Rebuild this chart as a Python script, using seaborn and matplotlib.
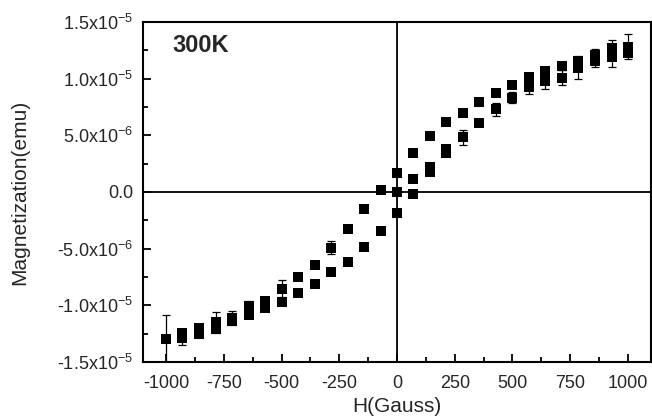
import numpy as np
import pandas as pd
import matplotlib
matplotlib.use('Agg')
import matplotlib.pyplot as plt
import seaborn as sns
from matplotlib.ticker import MultipleLocator, FixedLocator, FixedFormatter

# ---- data (magnetization in units of 1e-6 emu) ----
field_desc = [1000, 929, 857, 786, 714, 643, 571, 500, 429, 357, 286, 214, 143, 71, 0,
              -71, -143, -214, -286, -357, -429, -500, -571, -643, -714, -786, -857, -929, -1000]
mag_desc = [12.8, 12.7, 12.1, 11.55, 11.1, 10.67, 10.17, 9.45, 8.7, 7.9, 6.96, 6.14, 4.95, 3.45, 1.70,
            0.21, -1.49, -3.25, -4.91, -6.43, -7.54, -8.53, -9.6, -10.09, -11.1, -11.5, -12.0, -12.4, -12.95]
err_desc = [1.1, 0.7, 0.5, 0.3, 0.3, 0, 0, 0, 0, 0, 0, 0, 0, 0, 0,
            0, 0, 0, 0.6, 0, 0, 0.75, 0.3, 0.45, 0.6, 0.9, 0.35, 0, 2.07]

field_asc = [-929, -857, -786, -714, -643, -571, -500, -429, -357, -286, -214, -143, -71, 0,
             71, 143, 214, 286, 357, 429, 500, 571, 643, 714, 786, 857, 929, 1000]
mag_asc = [-12.9, -12.5, -12.1, -11.4, -10.88, -10.2, -9.7, -8.91, -8.1, -7.1, -6.14, -4.88, -3.42, -1.84,
           -0.14, 2.17, 3.83, 4.82, 6.11, 7.31, 8.33, 9.27, 9.80, 10.1, 10.96, 11.6, 11.9, 12.25]
err_asc = [0.6, 0, 0, 0, 0, 0, 0, 0, 0, 0, 0, 0, 0, 0,
           0, 0, 0, 0.65, 0, 0.58, 0.45, 0.65, 0.7, 0.7, 1.0, 0.6, 0.9, 0]

field_init = [0, 71, 143, 214]
mag_init = [0.0, 1.11, 1.8, 3.4]
err_init = [0, 0, 0.2, 0.2]

xticks = [-1000, -750, -500, -250, 0, 250, 500, 750, 1000]
xticklabels = ['-1000', '-750', '-500', '-250', '0', '250', '500', '750', '1000']
yticks = [-1.5e-5, -1.0e-5, -5.0e-6, 0.0, 5.0e-6, 1.0e-5, 1.5e-5]
yticklabels = ['-1.5x10$^{\\mathregular{-5}}$', '-1.0x10$^{\\mathregular{-5}}$', '-5.0x10$^{\\mathregular{-6}}$',
               '0.0', '5.0x10$^{\\mathregular{-6}}$', '1.0x10$^{\\mathregular{-5}}$', '1.5x10$^{\\mathregular{-5}}$']

df = pd.concat([
    pd.DataFrame({'H': field_desc, 'M': np.array(mag_desc) * 1e-6, 'err': np.array(err_desc) * 1e-6, 'branch': 'desc'}),
    pd.DataFrame({'H': field_asc, 'M': np.array(mag_asc) * 1e-6, 'err': np.array(err_asc) * 1e-6, 'branch': 'asc'}),
    pd.DataFrame({'H': field_init, 'M': np.array(mag_init) * 1e-6, 'err': np.array(err_init) * 1e-6, 'branch': 'init'}),
], ignore_index=True)

sns.set_style('ticks')
plt.rcParams['font.family'] = ['Liberation Sans', 'DejaVu Sans']
plt.rcParams['mathtext.fontset'] = 'custom'
plt.rcParams['mathtext.rm'] = 'Liberation Sans'
plt.rcParams['mathtext.it'] = 'Liberation Sans:italic'
plt.rcParams['mathtext.bf'] = 'Liberation Sans:bold'

fig = plt.figure(figsize=(6.52, 4.16), dpi=100)
ax = fig.add_axes([143 / 652, 1 - 362 / 416, 508 / 652, 340 / 416])

ax.axhline(0, color='black', lw=1.3, zorder=1)
ax.axvline(0, color='black', lw=1.3, zorder=1)

e = df[df['err'] > 0]
ax.errorbar(e['H'], e['M'], yerr=e['err'], fmt='none', ecolor='black',
            elinewidth=0.9, capsize=3.2, capthick=0.9, zorder=2)

sns.scatterplot(data=df, x='H', y='M', marker='s', color='black', s=42,
                edgecolor='black', linewidth=0, legend=False, ax=ax, zorder=3)

ax.set_xlim(-1100, 1100)
ax.set_ylim(-1.5e-5, 1.5e-5)
ax.xaxis.set_major_locator(FixedLocator(xticks))
ax.xaxis.set_major_formatter(FixedFormatter(xticklabels))
ax.xaxis.set_minor_locator(MultipleLocator(125))
ax.yaxis.set_major_locator(FixedLocator(yticks))
ax.yaxis.set_major_formatter(FixedFormatter(yticklabels))
ax.yaxis.set_minor_locator(MultipleLocator(2.5e-6))

ax.tick_params(which='both', direction='in', top=False, right=False, width=1.3, color='black')
ax.tick_params(which='major', length=6, labelsize=13)
ax.tick_params(axis='x', which='major', pad=9)
ax.tick_params(axis='y', which='major', pad=7)
ax.tick_params(which='minor', length=3.5)

for s in ax.spines.values():
    s.set_linewidth(1.5)
    s.set_color('black')

ax.set_xlabel('H(Gauss)', fontsize=15, labelpad=4)
ax.set_ylabel('Magnetization(emu)', fontsize=15, labelpad=20)

ax.text(0.058, 0.93, '300K', transform=ax.transAxes, fontsize=17, fontweight='bold',
        ha='left', va='center')

fig.savefig('out.png', dpi=100)
